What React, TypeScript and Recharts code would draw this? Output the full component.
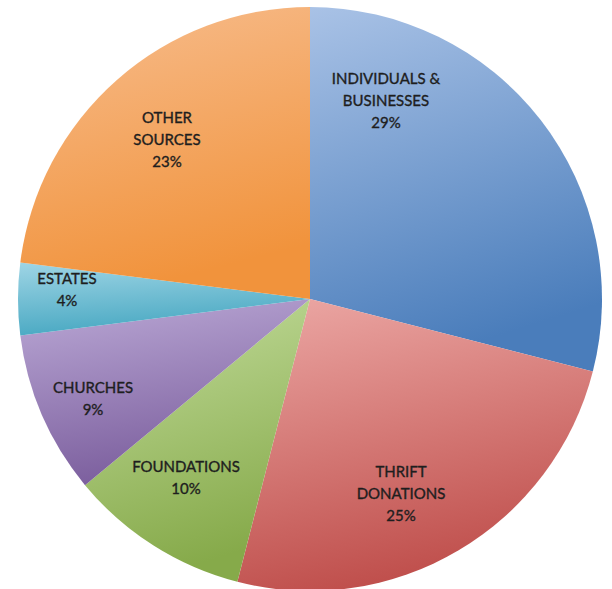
import { PieChart, Pie, Cell } from "recharts";

// funding sources, clockwise from 12 o'clock
const SOURCES = [
  "INDIVIDUALS & BUSINESSES",
  "THRIFT DONATIONS",
  "FOUNDATIONS",
  "CHURCHES",
  "ESTATES",
  "OTHER SOURCES",
];
const SHARES = [29, 25, 10, 9, 4, 23];

// label line breaks, as in the original
const LABEL_LINES = [
  ["INDIVIDUALS &", "BUSINESSES"],
  ["THRIFT", "DONATIONS"],
  ["FOUNDATIONS"],
  ["CHURCHES"],
  ["ESTATES"],
  ["OTHER", "SOURCES"],
];

// [top, bottom] gradient stops per slice
const SLICE_COLORS: [string, string][] = [
  ["#a9c2e6", "#4a7dbb"],
  ["#eca8a5", "#c0504d"],
  ["#c4dd9e", "#86aa4a"],
  ["#bba9d6", "#7c5f9e"],
  ["#9fd5e5", "#48a8c2"],
  ["#f7bd8e", "#f1933c"],
];

// label block centres relative to the pie centre (px)
const LABEL_OFFSETS: [number, number][] = [
  [76, -199],
  [91, 194],
  [-124, 178],
  [-217, 99],
  [-243, -10],
  [-143, -160],
];

const data = SOURCES.map((name, i) => ({ name, value: SHARES[i] }));

const LINE_H = 22;

function renderLabel(props: any) {
  const { cx, cy, index, value } = props;
  const lines = [...LABEL_LINES[index], `${value}%`];
  const [dx, dy] = LABEL_OFFSETS[index];
  const top = cy + dy - ((lines.length - 1) * LINE_H) / 2;
  return (
    <text
      x={cx + dx}
      y={top}
      textAnchor="middle"
      dominantBaseline="central"
      fill="#1e1e1e"
      stroke="#1e1e1e"
      strokeWidth={0.35}
      fontSize={15}
      fontFamily="Lato, 'Open Sans', sans-serif"
    >
      {lines.map((l, k) => (
        <tspan key={k} x={cx + dx} y={top + k * LINE_H}>
          {l}
        </tspan>
      ))}
    </text>
  );
}

export default function App() {
  return (
    <div style={{ position: "absolute", left: 0, top: 0, width: 612, height: 589, background: "#fff" }}>
      <PieChart width={612} height={589} margin={{ top: 0, right: 0, bottom: 0, left: 0 }}>
        <defs>
          {SLICE_COLORS.map(([a, b], i) => (
            <linearGradient key={i} id={`slice-${i}`} x1="0" y1="0" x2="0.25" y2="1">
              <stop offset="0%" stopColor={a} />
              <stop offset="100%" stopColor={b} />
            </linearGradient>
          ))}
        </defs>
        <Pie
          data={data}
          dataKey="value"
          nameKey="name"
          cx={310}
          cy={299}
          outerRadius={292}
          startAngle={90}
          endAngle={-270}
          stroke="none"
          label={renderLabel}
          labelLine={false}
          isAnimationActive={false}
        >
          {data.map((_, i) => (
            <Cell key={i} fill={`url(#slice-${i})`} />
          ))}
        </Pie>
      </PieChart>
    </div>
  );
}
